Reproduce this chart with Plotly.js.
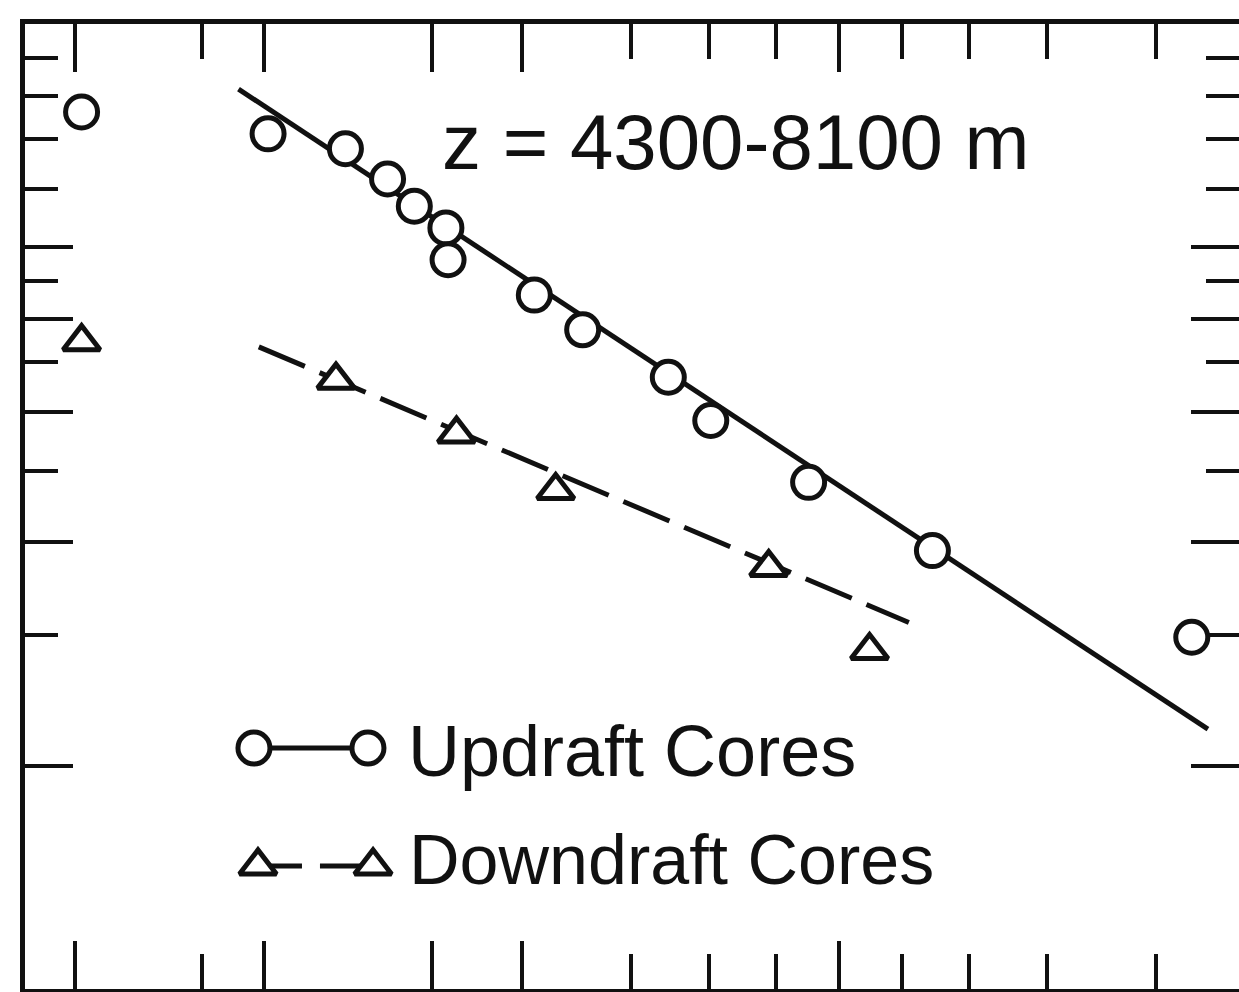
<!DOCTYPE html>
<html><head><meta charset="utf-8">
<script src="https://cdn.plot.ly/plotly-3.0.1.min.js"></script>
<style>html,body{margin:0;padding:0;background:#fff;overflow:hidden}</style>
</head><body><div id="chart" style="width:1239px;height:992px"></div>
<script>
// Cumulative percentage (normal-probability axis) vs core diameter (log axis)
const updraftPct  = [0.11, 1.05, 2.3, 3.4, 4.3, 5.6, 5.7, 10.9, 15.0, 24.5, 30.2, 45.1, 64.7, 92.3];
const updraftDiam = [7.61, 7.11, 6.79, 6.18, 5.68, 5.31, 4.81, 4.31, 3.87, 3.34, 2.92, 2.41, 1.95, 1.49];
const updraftFitPct  = [0.76, 93.2];
const updraftFitDiam = [8.17, 1.12];
const downdraftPct  = [0.11, 2.1, 6.1, 12.6, 38.8, 54.9];
const downdraftDiam = [3.73, 3.31, 2.80, 2.35, 1.85, 1.43];
const downdraftFitPct  = [0.95, 61.1];
const downdraftFitDiam = [3.67, 1.56];
const xRangePct = [0.05, 94.7];
const yRange = [0.5, 10];
const xMajorPct = [0.1, 1, 5, 10, 50];
const xMinorPct = [0.5, 20, 30, 40, 60, 70, 80, 90];
const yMajor = [1, 2, 3, 4, 5];
const yMinor = [1.5, 2.5, 3.5, 4.5, 6, 7, 8, 9];
const seriesNames = ['Updraft Cores', 'Downdraft Cores'];
const heightLabel = 'z = 4300-8100 m';

// inverse of the standard normal CDF (Acklam) -> probability-paper scale
function probit(p){
  const a=[-3.969683028665376e+01,2.209460984245205e+02,-2.759285104469687e+02,1.383577518672690e+02,-3.066479806614716e+01,2.506628277459239e+00];
  const b=[-5.447609879822406e+01,1.615858368580409e+02,-1.556989798598866e+02,6.680131188771972e+01,-1.328068155288572e+01];
  const c=[-7.784894002430293e-03,-3.223964580411365e-01,-2.400758277161838e+00,-2.549732539343734e+00,4.374664141464968e+00,2.938163982698783e+00];
  const d=[7.784695709041462e-03,3.224671290700398e-01,2.445134137142996e+00,3.754408661907416e+00];
  const pl=0.02425, ph=1-pl; let q,r;
  if(p<pl){q=Math.sqrt(-2*Math.log(p));return (((((c[0]*q+c[1])*q+c[2])*q+c[3])*q+c[4])*q+c[5])/((((d[0]*q+d[1])*q+d[2])*q+d[3])*q+1);}
  if(p<=ph){q=p-0.5;r=q*q;return (((((a[0]*r+a[1])*r+a[2])*r+a[3])*r+a[4])*r+a[5])*q/(((((b[0]*r+b[1])*r+b[2])*r+b[3])*r+b[4])*r+1);}
  q=Math.sqrt(-2*Math.log(1-p));return -(((((c[0]*q+c[1])*q+c[2])*q+c[3])*q+c[4])*q+c[5])/((((d[0]*q+d[1])*q+d[2])*q+d[3])*q+1);
}
const zs = arr => arr.map(p => probit(p/100));

const ink = '#111111';
const circleMarker = {symbol:'circle', size:32, color:'#ffffff', line:{color:ink, width:5}};
const triMarker = {symbol:'triangle-up', size:32, color:'#ffffff', line:{color:ink, width:5}};

const traces = [
  {x: zs(updraftFitPct), y: updraftFitDiam, mode:'lines', line:{color:ink, width:5}, showlegend:false, hoverinfo:'skip'},
  {x: zs(updraftPct), y: updraftDiam, mode:'markers', marker:circleMarker, name:seriesNames[0], showlegend:false},
  {x: zs(downdraftFitPct), y: downdraftFitDiam, mode:'lines', line:{color:ink, width:5, dash:'50px,16px'}, showlegend:false, hoverinfo:'skip'},
  {x: zs(downdraftPct), y: downdraftDiam, mode:'markers', marker:triMarker, name:seriesNames[1], showlegend:false},
  // hand-made legend keys (overlay axes in plot-fraction units)
  {x:[0.1886, 0.2825], y:[0.2497, 0.2497], xaxis:'x2', yaxis:'y2', mode:'lines+markers',
   line:{color:ink, width:5}, marker:circleMarker, showlegend:false, hoverinfo:'skip'},
  {x:[0.1919, 0.2867], y:[0.1275, 0.1275], xaxis:'x2', yaxis:'y2', mode:'lines+markers',
   line:{color:ink, width:5, dash:'44px,18px'}, marker:triMarker, showlegend:false, hoverinfo:'skip'}
];

const font = 'Liberation Sans, Arial, sans-serif';
const layout = {
  width:1239, height:992,
  margin:{l:25, r:0, t:24, b:3, pad:0},
  paper_bgcolor:'#ffffff', plot_bgcolor:'#ffffff',
  showlegend:false,
  xaxis:{
    range: zs(xRangePct), type:'linear', showgrid:false, zeroline:false,
    showline:true, linecolor:ink, linewidth:5, mirror:'ticks',
    ticks:'inside', tickmode:'array', tickvals: zs(xMajorPct), ticktext: xMajorPct.map(()=>''),
    ticklen:48, tickwidth:4, tickcolor:ink, showticklabels:false,
    minor:{tickmode:'array', tickvals: zs(xMinorPct), ticks:'inside', ticklen:35, tickwidth:4, tickcolor:ink, showgrid:false}
  },
  yaxis:{
    range: yRange.map(Math.log10), type:'log', showgrid:false, zeroline:false,
    showline:true, linecolor:ink, linewidth:5, mirror:'ticks',
    ticks:'inside', tickmode:'array', tickvals: yMajor, ticktext: yMajor.map(()=>''),
    ticklen:48, tickwidth:4, tickcolor:ink, showticklabels:false,
    minor:{tickmode:'array', tickvals: yMinor, ticks:'inside', ticklen:33, tickwidth:4, tickcolor:ink, showgrid:false}
  },
  xaxis2:{overlaying:'x', range:[0,1], visible:false, fixedrange:true},
  yaxis2:{overlaying:'y', range:[0,1], visible:false, fixedrange:true},
  annotations:[
    {text: heightLabel, xref:'paper', yref:'paper', x:0.3418, y:0.8777, xanchor:'left', yanchor:'middle',
     showarrow:false, font:{family:font, size:78, color:ink}},
    {text: seriesNames[0], xref:'paper', yref:'paper', x:0.3140, y:0.2466, xanchor:'left', yanchor:'middle',
     showarrow:false, font:{family:font, size:72, color:ink}},
    {text: seriesNames[1], xref:'paper', yref:'paper', x:0.3150, y:0.1337, xanchor:'left', yanchor:'middle',
     showarrow:false, font:{family:font, size:70, color:ink}}
  ]
};

Plotly.newPlot('chart', traces, layout, {staticPlot:true, displayModeBar:false});
</script>
</body></html>
